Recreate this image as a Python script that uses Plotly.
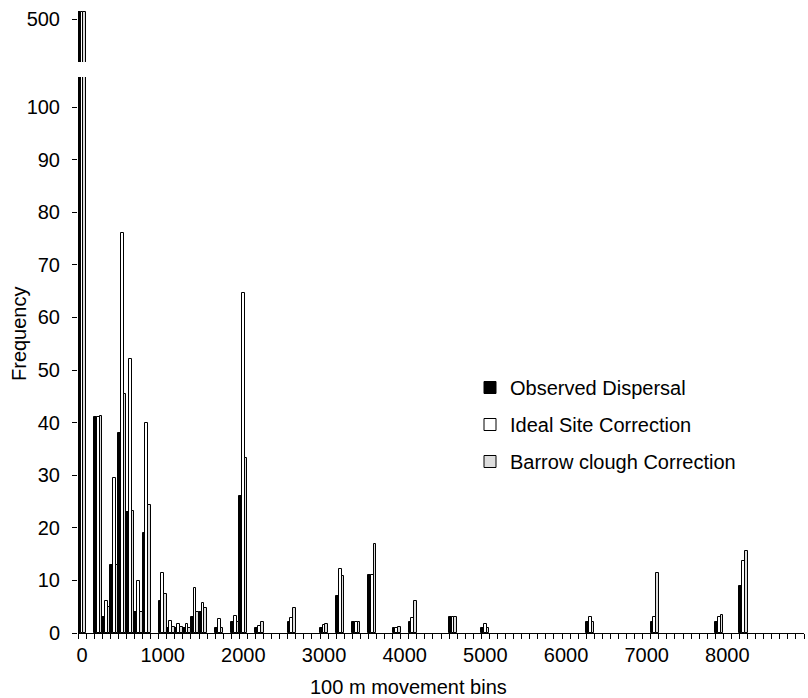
import plotly.graph_objects as go

# 100 m bins (only bins with non-zero counts listed)
bins = [0, 200, 300, 400, 500, 600, 700, 800, 1000, 1100, 1200, 1300, 1400, 1500,
        1700, 1900, 2000, 2200, 2600, 3000, 3200, 3400, 3600, 3900, 4100, 4600,
        5000, 6300, 7100, 7900, 8200]
observed = [501.3, 41, 3, 13, 38, 23, 4, 19, 6, 1, 1, 0.9, 3, 3.9,
            1, 2, 26, 1, 2, 1, 7.1, 2, 11, 1, 2, 3,
            1, 2, 2, 2, 8.9]
ideal = [501.3, 41, 6, 29.5, 76, 52, 9.9, 39.9, 11.5, 2.2, 1.7, 1.8, 8.5, 5.7,
         2.6, 3.2, 64.6, 1.4, 2.8, 1.6, 12.1, 2, 11, 1, 2.9, 3,
         1.7, 3, 3.1, 3, 13.7]
barrow = [501.3, 41.2, 4.9, 13, 45.5, 23.2, 4, 24.3, 7.4, 1.2, 1.1, 0.9, 4, 4.7,
          1, 2, 33.3, 2, 4.8, 1.7, 10.9, 2, 17, 1.1, 6, 3,
          1, 2, 11.5, 3.5, 15.5]

series_names = ["Observed Dispersal", "Ideal Site Correction", "Barrow clough Correction"]
series_colors = ["#000000", "#ffffff", "#dddddd"]
series_values = [observed, ideal, barrow]

x_tick_vals = [0, 1000, 2000, 3000, 4000, 5000, 6000, 7000, 8000]
y_tick_vals = [0, 10, 20, 30, 40, 50, 60, 70, 80, 90, 100]
upper_tick_vals = [500]

FONT = "Liberation Sans, Arial, sans-serif"
FS = 20

W, H = 808, 698
ml, mr, mt, mb = 78, 4, 8, 65
plot_h = H - mt - mb
lower_top_px = 77
upper_bottom_px = 62


def py(px):
    return (H - mb - px) / plot_h


def px_x(px):
    return (px - ml) / (W - ml - mr)


fig = go.Figure()
for name, color, vals in zip(series_names, series_colors, series_values):
    fig.add_trace(go.Bar(
        x=bins, y=vals, name=name, legendgroup=name,
        marker=dict(color=color, line=dict(color="black", width=1)),
        xaxis="x", yaxis="y",
    ))
for name, color, vals in zip(series_names, series_colors, series_values):
    fig.add_trace(go.Bar(
        x=bins, y=vals, name=name, showlegend=False,
        marker=dict(color=color, line=dict(color="black", width=1)),
        xaxis="x2", yaxis="y2",
    ))

minor_vals = [b * 100 - 50 for b in range(0, 91)]

fig.update_layout(
    width=W, height=H,
    margin=dict(l=ml, r=mr, t=mt, b=mb, pad=0),
    paper_bgcolor="white", plot_bgcolor="white",
    font=dict(family=FONT, size=FS, color="black"),
    barmode="group", bargap=0, bargroupgap=0,
    showlegend=True,
    legend=dict(x=px_x(470), y=py(368), xanchor="left", yanchor="top",
                traceorder="grouped", tracegroupgap=8,
                font=dict(family=FONT, size=FS, color="black"),
                bgcolor="rgba(0,0,0,0)"),
    xaxis=dict(
        range=[-50, 8950], domain=[0, 1], anchor="y",
        tickmode="array", tickvals=x_tick_vals, ticktext=[str(v) for v in x_tick_vals],
        ticks="", showgrid=False, zeroline=False,
        showline=True, linecolor="black", linewidth=1,
        ticklabelstandoff=4,
        minor=dict(tickmode="array", tickvals=minor_vals, ticks="outside",
                   ticklen=5, tickcolor="black", tickwidth=1, showgrid=False),
    ),
    xaxis2=dict(range=[-50, 8950], matches="x", anchor="y2", visible=False),
    yaxis=dict(
        domain=[0, py(lower_top_px)], range=[0, (H - mb - lower_top_px) / 5.26],
        tickmode="array", tickvals=y_tick_vals,
        ticks="outside", ticklen=5, tickcolor="black", tickwidth=1,
        showgrid=False, zeroline=False, showline=False,
        ticklabelstandoff=8,
    ),
    yaxis2=dict(
        domain=[py(upper_bottom_px), 1],
        range=[500 - (upper_bottom_px - 19) / 5.26, 500 + (19 - mt) / 5.26],
        tickmode="array", tickvals=upper_tick_vals,
        ticks="outside", ticklen=5, tickcolor="black", tickwidth=1,
        showgrid=False, zeroline=False, showline=False,
        ticklabelstandoff=8, anchor="x2",
    ),
    annotations=[
        dict(text="100 m movement bins", xref="paper", yref="paper",
             x=px_x(408), y=py(687), xanchor="center", yanchor="middle",
             showarrow=False, font=dict(family=FONT, size=FS, color="black")),
        dict(text="Frequency", xref="paper", yref="paper",
             x=px_x(19), y=py(334), xanchor="center", yanchor="middle",
             textangle=-90, showarrow=False,
             font=dict(family=FONT, size=FS, color="black")),
    ],
)

fig.write_html("out.html")
